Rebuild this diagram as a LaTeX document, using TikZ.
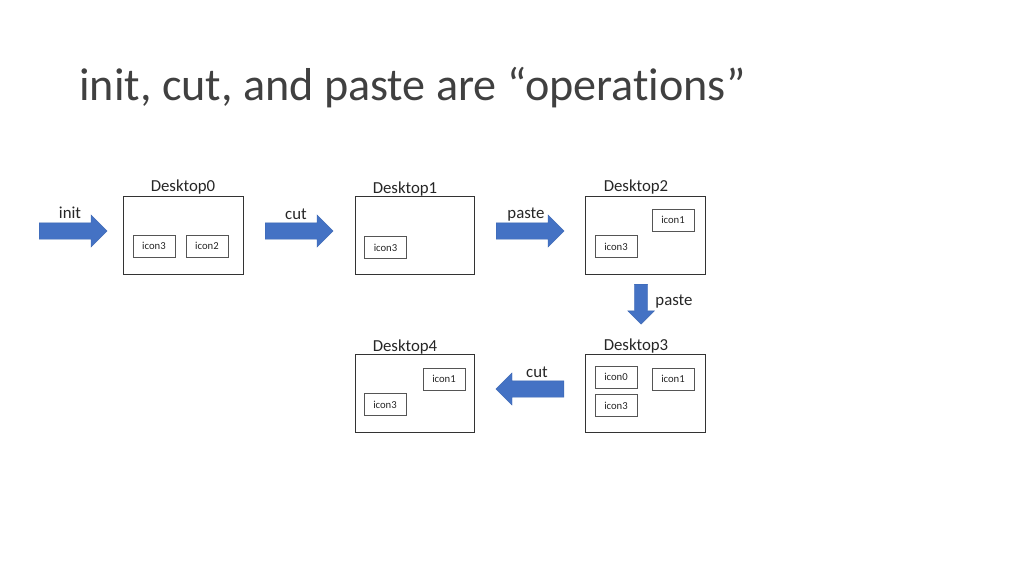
\documentclass[tikz,border=0pt]{standalone}
\usepackage{fontspec}
\setmainfont{Carlito}[Ligatures=NoCommon]
\usetikzlibrary{shapes.arrows}
\definecolor{arrowblue}{HTML}{4472C4}
\definecolor{arrowedge}{HTML}{3A65B0}
\definecolor{boxedge}{HTML}{333333}
\definecolor{iconedge}{HTML}{555555}
\definecolor{titlegray}{HTML}{404040}
\tikzset{>=latex}

\begin{document}
\begin{tikzpicture}[x=0.75pt, y=-0.75pt]

	\tikzstyle{desktop_box} = [rectangle, draw=boxedge, line width=0.7pt, fill=white, minimum width=89.5pt, minimum height=58.5pt, inner sep=0pt]
	\tikzstyle{icon_box} = [rectangle, draw=iconedge, line width=0.5pt, fill=white, minimum width=31.5pt, minimum height=16.5pt, inner sep=0pt, text=black!85, font=\fontsize{8}{9}\selectfont]
	\tikzstyle{label_text} = [inner sep=0pt, text=black!85, font=\fontsize{12.6}{14}\selectfont]
	\tikzstyle{op_arrow} = [single arrow, draw=arrowedge, line width=0.3pt, fill=arrowblue, inner sep=6pt, single arrow head extend=6pt, single arrow head indent=0pt, minimum width=24pt, minimum height=51pt, anchor=tail]

	\useasboundingbox (0,0) rectangle (1024,576);

	\node[anchor=base west, inner sep=0pt, text=titlegray, font=\fontsize{34.6}{40}\selectfont] (title) at (79,100) {init, cut, and paste are “operations”};

%------------------------------------------------------------
	\node[op_arrow] (init_arrow) at (39,231) {};
	\node[label_text] (init_label) at (70,213) {init};

	\node[desktop_box] (desk0) at (183.5,235) {};
	\node[label_text] (desk0_label) at (183,187) {Desktop0};
	\node[icon_box] (desk0_icon3) at (154,246) {icon3};
	\node[icon_box] (desk0_icon2) at (207,246) {icon2};

%------------------------------------------------------------
	\node[op_arrow] (cut_arrow_a) at (265,231) {};
	\node[label_text] (cut_label_a) at (296,214) {cut};

	\node[desktop_box] (desk1) at (415,235) {};
	\node[label_text] (desk1_label) at (405,189) {Desktop1};
	\node[icon_box] (desk1_icon3) at (385.5,247.5) {icon3};

%------------------------------------------------------------
	\node[op_arrow] (paste_arrow_a) at (496,231) {};
	\node[label_text] (paste_label_a) at (526,215) {paste};

	\node[desktop_box] (desk2) at (645.5,235) {};
	\node[label_text] (desk2_label) at (636,187) {Desktop2};
	\node[icon_box] (desk2_icon1) at (673,220) {icon1};
	\node[icon_box] (desk2_icon3) at (616,246.5) {icon3};

%------------------------------------------------------------
	\node[op_arrow, shape border rotate=270, inner sep=4.9pt, minimum height=30pt, minimum width=19.5pt, single arrow head extend=4.9pt] (paste_arrow_b) at (641,284) {};
	\node[label_text] (paste_label_b) at (674,302) {paste};

%------------------------------------------------------------
	\node[desktop_box] (desk3) at (645.5,393) {};
	\node[label_text] (desk3_label) at (636,346) {Desktop3};
	\node[icon_box] (desk3_icon0) at (616,377) {icon0};
	\node[icon_box] (desk3_icon1) at (673,379) {icon1};
	\node[icon_box] (desk3_icon3) at (616,405.5) {icon3};

%------------------------------------------------------------
	\node[op_arrow, shape border rotate=180] (cut_arrow_b) at (564,389) {};
	\node[label_text] (cut_label_b) at (537,372) {cut};

	\node[desktop_box] (desk4) at (415,393) {};
	\node[label_text] (desk4_label) at (405,347) {Desktop4};
	\node[icon_box] (desk4_icon1) at (444,379) {icon1};
	\node[icon_box] (desk4_icon3) at (385,404.5) {icon3};

\end{tikzpicture}
\end{document}
